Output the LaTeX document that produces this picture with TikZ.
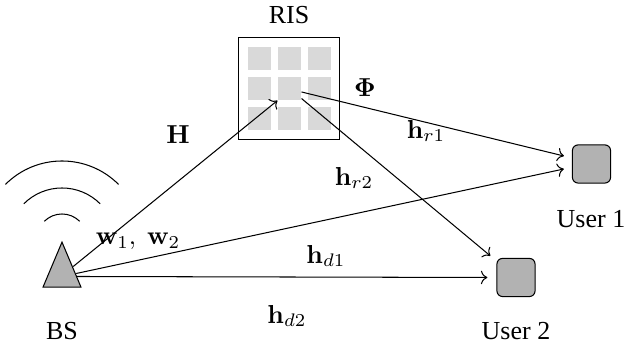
\documentclass[tikz,border=0pt]{standalone}
\usepackage{amsmath}
\usepackage{amssymb}
\usepackage[no-math]{fontspec}
\setmainfont{Liberation Serif}
\usetikzlibrary{arrows.meta, shapes.geometric, positioning, calc}
\definecolor{usergray}{RGB}{178,178,178}
\definecolor{cellgray}{RGB}{217,217,217}
\tikzset{
	userbox/.style={draw,fill=usergray,rounded corners=2.2pt,minimum size=14.7pt,inner sep=0pt},
	cellbox/.style={fill=cellgray,minimum size=8.9pt,inner sep=0pt},
	lbl/.style={inner sep=0pt}
}

\begin{document}
\begin{tikzpicture}[x=0.385pt,y=-0.385pt,line width=0.4pt]
	\useasboundingbox (0,0) rectangle (626,350);
	% RIS panel
	\node[draw,minimum size=39.2pt,inner sep=0pt] (ris) at (289,88.5) {};
	\foreach \i/\cx in {1/259.5,2/289.5,3/319.5}
		\foreach \j/\cy in {1/58.5,2/88.5,3/118.5}
			\node[cellbox] (cell\i\j) at (\cx,\cy) {};
	% base station
	\node[draw,fill=usergray,isosceles triangle,isosceles triangle stretches,shape border rotate=90,minimum width=14.6pt,minimum height=17.3pt,inner sep=0pt] (bs) at (62,274.5) {};
	\draw (62,239) ++(225:25) arc[start angle=225,end angle=315,radius=25];
	\draw (62,242) ++(225:54) arc[start angle=225,end angle=315,radius=54];
	\draw (62,241) ++(225:80) arc[start angle=225,end angle=315,radius=80];
	% users
	\node[userbox] (user1) at (591.5,164) {};
	\node[userbox] (user2) at (516,277.5) {};
	% links
	\draw[->] ([shift={(-3,-8)}]bs.east) -- (cell22.south west);
	\draw[->] ([shift={(0,-1)}]bs.east) -- ([shift={(-8,5)}]user1.west);
	\draw[->] ([shift={(0,2)}]bs.east) -- ([shift={(-9,0)}]user2.west);
	\draw[->] ([shift={(0,3.5)}]cell22.east) -- ([shift={(-8,-8)}]user1.west);
	\draw[->] ([shift={(0,-2)}]cell22.south east) -- ([shift={(-6,-2)}]user2.north west);
	% labels
	\node[lbl] (ristxt) at (289,15) {RIS};
	\node[lbl] (bstxt) at (62,331) {BS};
	\node[lbl] (u1txt) at (591,219) {User 1};
	\node[lbl] (u2txt) at (516,331) {User 2};
	\node[lbl] (lH) at (178,135) {$\mathbf{H}$};
	\node[lbl] (lPhi) at (365,88) {$\boldsymbol{\Phi}$};
	\node[lbl] (lr1) at (426,131) {$\mathbf{h}_{r1}$};
	\node[lbl] (lr2) at (354,178) {$\mathbf{h}_{r2}$};
	\node[lbl] (lw) at (138,241) {$\mathbf{w}_1,\ \mathbf{w}_2$};
	\node[lbl] (ld1) at (326,256) {$\mathbf{h}_{d1}$};
	\node[lbl] (ld2) at (287,316) {$\mathbf{h}_{d2}$};
\end{tikzpicture}
\end{document}
